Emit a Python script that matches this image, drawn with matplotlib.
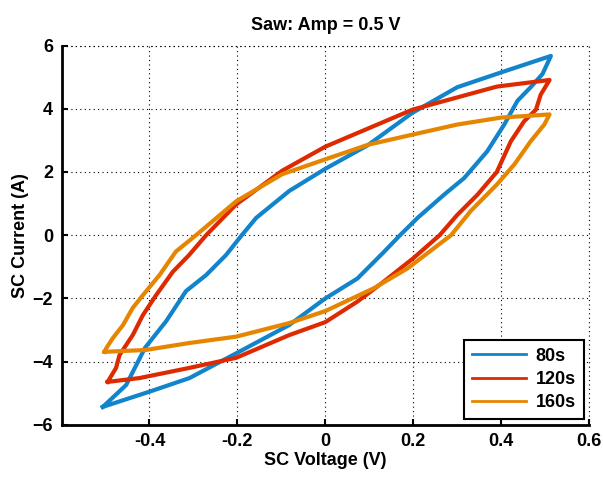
import matplotlib
matplotlib.use("Agg")
import matplotlib.pyplot as plt

# SC voltage (V) / current (A) traced around each hysteresis loop
v_80 = [-0.506, -0.453, -0.41, -0.362, -0.317, -0.271, -0.226, -0.19, -0.157, -0.082, 0.0,
        0.097, 0.198, 0.3, 0.4, 0.513,
        0.494, 0.467, 0.437, 0.407, 0.368, 0.316, 0.27, 0.21, 0.17, 0.134, 0.073, 0.0,
        -0.082, -0.195, -0.309, -0.4, -0.506]
i_80 = [-5.43, -4.74, -3.56, -2.72, -1.77, -1.26, -0.63, 0.0, 0.55, 1.4, 2.1,
        2.85, 3.87, 4.68, 5.15, 5.67,
        5.1, 4.68, 4.25, 3.5, 2.65, 1.81, 1.28, 0.55, 0.0, -0.52, -1.37, -2.0,
        -2.84, -3.68, -4.52, -4.95, -5.43]

v_120 = [-0.495, -0.476, -0.468, -0.438, -0.415, -0.385, -0.347, -0.31, -0.271, -0.203,
         -0.098, 0.0, 0.198, 0.39, 0.51,
         0.49, 0.479, 0.452, 0.422, 0.39, 0.346, 0.30, 0.26, 0.2, 0.13, 0.073, 0.0,
         -0.082, -0.203, -0.31, -0.423, -0.495]
i_120 = [-4.64, -4.2, -3.79, -3.16, -2.53, -1.9, -1.16, -0.63, 0.0, 0.97,
         2.04, 2.8, 3.97, 4.7, 4.91,
         4.45, 3.97, 3.6, 2.97, 2.0, 1.28, 0.64, 0.0, -0.73, -1.5, -2.1, -2.75,
         -3.16, -3.88, -4.2, -4.52, -4.64]

v_160 = [-0.502, -0.498, -0.483, -0.46, -0.438, -0.415, -0.377, -0.34, -0.294, -0.203,
         -0.098, 0.0, 0.097, 0.198, 0.3, 0.4, 0.51,
         0.498, 0.467, 0.43, 0.39, 0.331, 0.286, 0.187, 0.11, 0.0,
         -0.082, -0.203, -0.309, -0.408, -0.502]
i_160 = [-3.69, -3.57, -3.25, -2.84, -2.3, -1.9, -1.26, -0.52, 0.0, 1.07,
         1.93, 2.4, 2.86, 3.18, 3.5, 3.72, 3.82,
         3.5, 2.97, 2.24, 1.6, 0.77, 0.0, -1.05, -1.68, -2.4,
         -2.78, -3.21, -3.41, -3.63, -3.69]

labels = ["80s", "120s", "160s"]
colors = ["#1184cb", "#dd2a00", "#e68600"]

x_ticks = [-0.4, -0.2, 0, 0.2, 0.4, 0.6]
y_ticks = [-6, -4, -2, 0, 2, 4, 6]

plt.rcParams['font.family'] = ['Liberation Sans', 'DejaVu Sans']
plt.rcParams['font.weight'] = 'bold'

fig = plt.figure(figsize=(6.03, 4.79), dpi=100, facecolor='w')
ax = fig.add_axes([0.102, 0.113, 0.875, 0.792])

series = [(v_80, i_80), (v_120, i_120), (v_160, i_160)]
for (v, i), lab, c in zip(series, labels, colors):
    ax.plot(v, i, color=c, lw=3, label=lab, solid_joinstyle='round')

ax.set_xlim(-0.6, 0.6)
ax.set_ylim(-6, 6)
ax.set_xticks(x_ticks)
ax.set_xticklabels(["-0.4", "-0.2", "0", "0.2", "0.4", "0.6"])
ax.set_yticks(y_ticks)
dots = (0, (1, 3))
ax.grid(True, color='black', linestyle=dots, linewidth=0.8)
ax.set_axisbelow(True)

# matlab style: no box, inward ticks
ax.spines['top'].set_visible(False)
ax.spines['right'].set_visible(False)
ax.spines['left'].set_linewidth(2)
ax.spines['bottom'].set_linewidth(2)
ax.tick_params(direction='in', length=4, width=1.5, labelsize=13, pad=6)
for lbl in ax.get_xticklabels() + ax.get_yticklabels():
    lbl.set_fontweight('bold')

# dotted lines along top and right edges
ax.axhline(6, color='black', linestyle=dots, linewidth=0.8, clip_on=False)
ax.axvline(0.6, color='black', linestyle=dots, linewidth=0.8, clip_on=False)

ax.set_title("Saw: Amp = 0.5 V", fontsize=13, fontweight='bold', pad=11)
ax.set_xlabel("SC Voltage (V)", fontsize=13, fontweight='bold', labelpad=1)
ax.set_ylabel("SC Current (A)", fontsize=13, fontweight='bold', labelpad=3)

leg = ax.legend(loc='lower right', fontsize=13, frameon=True, fancybox=False,
                handlelength=3.0, labelspacing=0.35, borderpad=0.45,
                borderaxespad=0.3, handletextpad=0.5, framealpha=1)
leg.get_frame().set_edgecolor('black')
leg.get_frame().set_linewidth(1.5)
for t in leg.get_texts():
    t.set_fontweight('bold')
for ln in leg.get_lines():
    ln.set_linewidth(2)

fig.savefig("out.png", dpi=100)
